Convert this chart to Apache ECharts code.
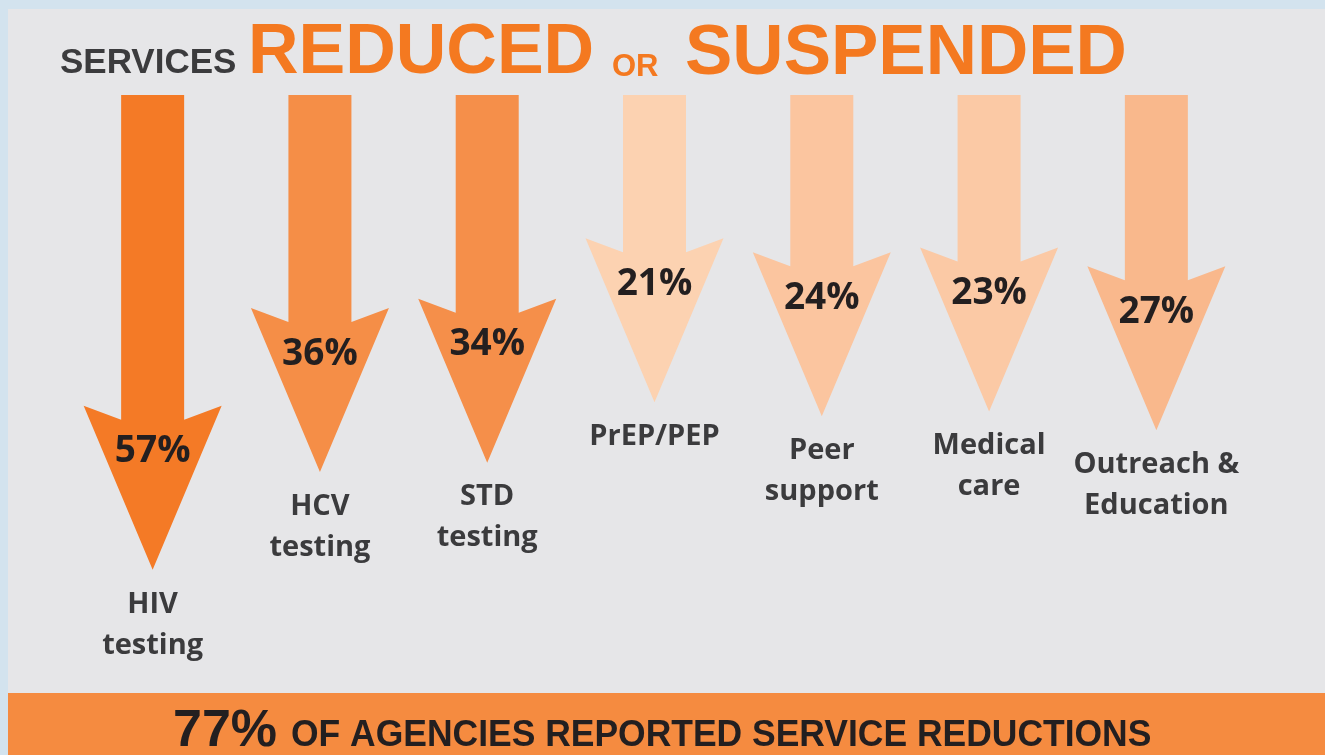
<!DOCTYPE html>
<html>
<head>
<meta charset="utf-8">
<title>Services reduced or suspended</title>
<script src="https://cdn.jsdelivr.net/npm/echarts@6/dist/echarts.min.js"></script>
<style>
  html, body { margin: 0; padding: 0; background: #e6e6e8; }
  #chart { width: 1325px; height: 755px; }
</style>
</head>
<body>
<div id="chart"></div>
<script>
const services = ['HIV\ntesting', 'HCV\ntesting', 'STD\ntesting', 'PrEP/PEP', 'Peer\nsupport', 'Medical\ncare', 'Outreach &\nEducation']
const reducedPct = [57, 36, 34, 21, 24, 23, 27]
const agenciesPct = 77

const head = '"Liberation Sans", Arial, sans-serif'
const sans = '"Open Sans", "Noto Sans", sans-serif'

const chart = echarts.init(document.getElementById('chart'))

// one down arrow per service, the tip sits at the value on the (inverted) y axis
function renderArrow(params, api) {
  const idx = api.value(0)
  const tip = api.coord([idx, api.value(1)])
  const x = tip[0]
  const top = params.coordSys.y
  const headLen = 164, headHalf = 69, shaftHalf = 31.5, barb = 14
  const wingY = tip[1] - headLen
  return {
    type: 'group',
    children: [{
      type: 'polygon',
      shape: {
        points: [
          [x - shaftHalf, top], [x + shaftHalf, top],
          [x + shaftHalf, wingY + barb], [x + headHalf, wingY],
          [x, tip[1]],
          [x - headHalf, wingY], [x - shaftHalf, wingY + barb]
        ]
      },
      style: { fill: api.visual('color') }
    }, {
      type: 'text',
      x: x,
      y: wingY + 46,
      style: {
        text: api.value(1) + '%',
        fill: '#231f20',
        fontFamily: sans,
        fontWeight: 'bold',
        fontSize: 37,
        align: 'center',
        verticalAlign: 'middle'
      }
    }, {
      type: 'text',
      x: x,
      y: tip[1] + 14,
      style: {
        text: services[idx],
        fill: '#3b3b3d',
        fontFamily: sans,
        fontWeight: 'bold',
        fontSize: 29,
        lineHeight: 41,
        align: 'center',
        verticalAlign: 'top'
      }
    }]
  }
}

chart.setOption({
  backgroundColor: '#e6e6e8',
  animation: false,
  grid: { left: 69, right: 85, top: 95, bottom: 148 },
  xAxis: { type: 'category', data: services, show: false },
  yAxis: { type: 'value', inverse: true, min: -45, max: 65, show: false },
  visualMap: {
    show: false,
    type: 'continuous',
    dimension: 1,
    min: 21,
    max: 57,
    inRange: {
      color: ['#fcd2b1', '#f9b88c', '#f5904b', '#f58b43', '#f5853a', '#f47f30', '#f47a26']
    }
  },
  graphic: [
    { type: 'rect', shape: { x: 0, y: 0, width: 1325, height: 9 }, style: { fill: '#d3e3ee' } },
    { type: 'rect', shape: { x: 0, y: 0, width: 8, height: 755 }, style: { fill: '#d3e3ee' } },
    { type: 'rect', shape: { x: 8, y: 693, width: 1317, height: 62 }, style: { fill: '#f58b40' } },
    {
      type: 'text', x: 60, y: 63,
      style: { text: 'SERVICES', fill: '#3b3b3d', fontFamily: head, fontWeight: 'bold', fontSize: 35, verticalAlign: 'middle' }
    },
    {
      type: 'text', x: 248, y: 54,
      style: { text: 'REDUCED', fill: '#f47920', fontFamily: head, fontWeight: 'bold', fontSize: 70, verticalAlign: 'middle' }
    },
    {
      type: 'text', x: 612, y: 67,
      style: { text: 'OR', fill: '#f47920', fontFamily: head, fontWeight: 'bold', fontSize: 31, verticalAlign: 'middle' }
    },
    {
      type: 'text', x: 685, y: 54,
      style: { text: 'SUSPENDED', fill: '#f47920', fontFamily: head, fontWeight: 'bold', fontSize: 71, verticalAlign: 'middle' }
    },
    {
      type: 'text', x: 173, y: 732,
      style: { text: agenciesPct + '%', fill: '#231f20', fontFamily: head, fontWeight: 'bold', fontSize: 52, verticalAlign: 'middle' }
    },
    {
      type: 'text', x: 291, y: 736, scaleX: 0.985,
      style: { text: 'OF AGENCIES REPORTED SERVICE REDUCTIONS', fill: '#231f20', fontFamily: head, fontWeight: 'bold', fontSize: 36, verticalAlign: 'middle' }
    }
  ],
  series: [{
    type: 'custom',
    renderItem: renderArrow,
    encode: { x: 0, y: 1 },
    data: reducedPct.map((v, i) => [i, v])
  }]
})
</script>
</body>
</html>
